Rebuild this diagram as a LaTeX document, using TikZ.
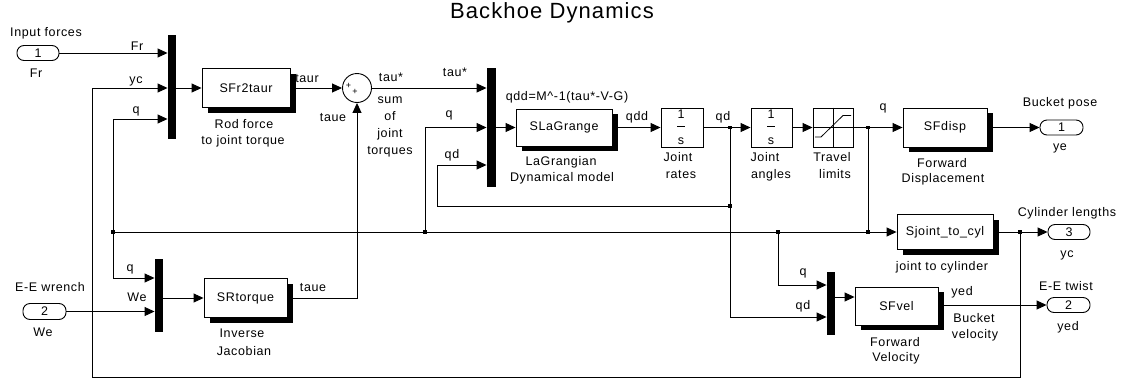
\documentclass[tikz,border=0pt]{standalone}
\usepackage{fontspec}
\setmainfont{Liberation Sans}[LetterSpace=5]
\usetikzlibrary{arrows.meta,shadows}
\newcommand{\lblfont}{\fontsize{12.5}{15}\selectfont}
\newcommand{\ttlfont}{\fontsize{22}{26}\selectfont}
\newcommand{\sgnfont}{\fontsize{9}{9}\selectfont}
\begin{document}
\begin{tikzpicture}[x=1pt,y=-1pt,
  line width=0.9pt,
  arr/.style={-{Triangle[length=10pt,width=9pt]}},
  blk/.style={draw, fill=white, inner sep=0pt, font=\lblfont,
    general shadow={fill=black, shadow xshift=6pt, shadow yshift=-5pt}},
  plainblk/.style={draw, fill=white, inner sep=0pt},
  muxbar/.style={fill=black, draw=none, inner sep=0pt, minimum width=8pt},
  port/.style={draw, rounded corners=7pt, minimum width=42pt, minimum height=15pt, inner sep=0pt, font=\lblfont},
  lab/.style={inner sep=0pt, text height=9pt, text depth=0pt, font=\lblfont},
  dotn/.style={fill=black, draw=none, minimum size=3.5pt, inner sep=0pt},
  sgn/.style={inner sep=0pt, font=\sgnfont}
]
\useasboundingbox (0,0) rectangle (1135,383);

% title
\node[anchor=base, inner sep=0pt, font=\ttlfont] (title) at (552,18) {Backhoe Dynamics};

% ---------- blocks ----------
\node[port] (p1) at (38,53) {1};
\node[port, minimum width=43pt, minimum height=16pt] (p2) at (44.5,311.5) {2};
\node[muxbar, minimum height=104pt] (mux1) at (172,87) {};
\node[muxbar, minimum height=73pt] (muxW) at (159,295.5) {};
\node[blk, minimum width=88pt, minimum height=39pt] (sfr) at (246,88) {SFr2taur};
\node[blk, minimum width=83pt, minimum height=39pt] (srt) at (245.5,298) {SRtorque};
\node[draw, circle, fill=white, minimum size=29pt, inner sep=0pt] (sum) at (357,88) {};
\node[sgn] (sg1) at (348.5,86) {+};
\node[sgn] (sg2) at (355,92) {+};
\node[muxbar, minimum width=9pt, minimum height=119pt] (muxL) at (491.5,127.5) {};
\node[blk, minimum width=96pt, minimum height=37pt] (slg) at (564,127.5) {SLaGrange};
\node[plainblk, minimum width=42pt, minimum height=39pt] (int1) at (682,127.5) {};
\node[plainblk, minimum width=41pt, minimum height=39pt] (int2) at (771.5,127.5) {};
\node[plainblk, minimum width=40pt, minimum height=39pt] (sat) at (833,127.5) {};
\node[blk, minimum width=84pt, minimum height=39pt] (sfd) at (945,127.5) {SFdisp};
\node[port, minimum width=43pt] (o1) at (1061.5,127.5) {1};
\node[blk, minimum width=96pt, minimum height=35pt] (sj) at (945,232) {Sjoint\_to\_cyl};
\node[port] (o3) at (1069,232) {3};
\node[muxbar, minimum height=63pt] (mux3) at (831,303.5) {};
\node[blk, minimum width=83pt, minimum height=38pt] (sfv) at (896.5,306) {SFvel};
\node[port, minimum width=43pt] (o2) at (1068.5,305) {2};

% integrator and saturation icons
\node[lab] (i1n) at (681,113.5) {1};
\draw[line width=0.8pt] (677,126) -- (685,126);
\node[lab] (i1d) at (681,139.5) {s};
\node[lab] (i2n) at (771,113.5) {1};
\draw[line width=0.8pt] (767,126) -- (775,126);
\node[lab] (i2d) at (771,139.5) {s};
\draw[line width=0.7pt] (sat.west) -- (sat.east);
\draw[line width=0.7pt] (sat.north) -- (sat.south);
\draw[line width=0.8pt] (815,137) -- (821,137) -- (843,115.5) -- (851,115.5);

% ---------- branch coordinates ----------
\coordinate (qL) at (113,232);
\coordinate (qM) at (425,232);
\coordinate (qR) at (778,232);
\coordinate (qS) at (868,232);
\coordinate (qT) at (868,127.5);
\coordinate (qd1) at (730,127.5);
\coordinate (qd2) at (730,206);
\coordinate (qdL) at (437,206);
\coordinate (ycd) at (1020,232);
\coordinate (fbR) at (1020,377);
\coordinate (fbL) at (92,377);
\coordinate (tauC) at (357,298);

% ---------- connectors ----------
\draw[arr] (p1.east) -- (mux1.west |- p1.east);
\draw[arr] (ycd) -- (fbR) -- (fbL) |- (mux1.west |- sfr.west);
\draw[arr] (qL) |- (mux1.west |- 0,119);
\draw[arr] (mux1.east |- sfr.west) -- (sfr.west);
\draw[arr] (sfr.east) -- (sum.west);
\draw[arr] (srt.east) -- (tauC) -- (sum.south);
\draw[arr] (sum.east) -- (muxL.west |- sum.east);
\draw[arr] (qM) |- (muxL.west);
\draw[arr] (qd2) -- (qdL) |- (muxL.west |- 0,165);
\draw[arr] (muxL.east) -- (slg.west);
\draw[arr] (slg.east) -- (int1.west);
\draw[arr] (int1.east) -- (int2.west);
\draw[arr] (int2.east) -- (sat.west);
\draw[arr] (sat.east) -- (sfd.west);
\draw[arr] (sfd.east) -- (o1.west);
\draw[arr] (qT) |- (sj.west);
\draw (qS) -- (qL);
\draw[arr] (qL) |- (muxW.west |- 0,278);
\draw[arr] (p2.east) -- (muxW.west |- p2.east);
\draw[arr] (muxW.east |- srt.west) -- (srt.west);
\draw[arr] (qR) |- (mux3.west |- 0,285);
\draw[arr] (qd1) |- (mux3.west |- 0,317);
\draw[arr] (mux3.east |- 0,297) -- (sfv.west |- 0,297);
\draw[arr] (sfv.east |- o2.west) -- (o2.west);
\draw[arr] (sj.east) -- (o3.west);

% branch dots
\node[dotn] (d1) at (qL) {};
\node[dotn] (d2) at (qM) {};
\node[dotn] (d3) at (qR) {};
\node[dotn] (d4) at (qS) {};
\node[dotn] (d5) at (qT) {};
\node[dotn] (d6) at (qd1) {};
\node[dotn] (d7) at (qd2) {};
\node[dotn] (d8) at (ycd) {};

% ---------- labels ----------
\node[lab] (l1) at (46,32) {Input forces};
\node[lab] (l2) at (36,73) {Fr};
\node[lab] (l3) at (137,46) {Fr};
\node[lab] (l4) at (136,79) {yc};
\node[lab] (l5) at (136,109) {q};
\node[lab] (l6) at (244,124) {Rod force};
\node[lab] (l7) at (243,140) {to joint torque};
\node[lab] (l8) at (307,78) {taur};
\node[lab] (l9) at (333,117) {taue};
\node[lab] (l10) at (391,77) {tau*};
\node[lab] (l11) at (455,72) {tau*};
\node[lab] (l12) at (390,99) {sum};
\node[lab] (l13) at (390,116) {of};
\node[lab] (l14) at (390,133) {joint};
\node[lab] (l15) at (390,150) {torques};
\node[lab] (l16) at (567,96) {qdd=M\^{}-1(tau*-V-G)};
\node[lab] (l17) at (449,113) {q};
\node[lab] (l18) at (452,154) {qd};
\node[lab] (l19) at (561,161) {LaGrangian};
\node[lab] (l20) at (562,177) {Dynamical model};
\node[lab] (l21) at (637,116) {qdd};
\node[lab] (l22) at (678,157) {Joint};
\node[lab] (l23) at (681,174) {rates};
\node[lab] (l24) at (723,116) {qd};
\node[lab] (l25) at (765,157) {Joint};
\node[lab] (l26) at (771,174) {angles};
\node[lab] (l27) at (832,157) {Travel};
\node[lab] (l28) at (835,174) {limits};
\node[lab] (l29) at (883,106) {q};
\node[lab] (l30) at (942,163) {Forward};
\node[lab] (l31) at (943,178) {Displacement};
\node[lab] (l32) at (1060,102) {Bucket pose};
\node[lab] (l33) at (1060,146) {ye};
\node[lab] (l34) at (1067,212) {Cylinder lengths};
\node[lab] (l35) at (1067,253) {yc};
\node[lab] (l36) at (942,266) {joint to cylinder};
\node[lab] (l37) at (803,271) {q};
\node[lab] (l38) at (803,305) {qd};
\node[lab] (l39) at (962,291) {yed};
\node[lab] (l40) at (974,318) {Bucket};
\node[lab] (l41) at (975,334) {velocity};
\node[lab] (l42) at (895,342) {Forward};
\node[lab] (l43) at (896,357) {Velocity};
\node[lab] (l44) at (1066,286) {E-E twist};
\node[lab] (l45) at (1068,326) {yed};
\node[lab] (l46) at (50,287) {E-E wrench};
\node[lab] (l47) at (43,332) {We};
\node[lab] (l48) at (130,267) {q};
\node[lab] (l49) at (137,297) {We};
\node[lab] (l50) at (313,287) {taue};
\node[lab] (l51) at (242,333) {Inverse};
\node[lab] (l52) at (244,351) {Jacobian};
\end{tikzpicture}
\end{document}
